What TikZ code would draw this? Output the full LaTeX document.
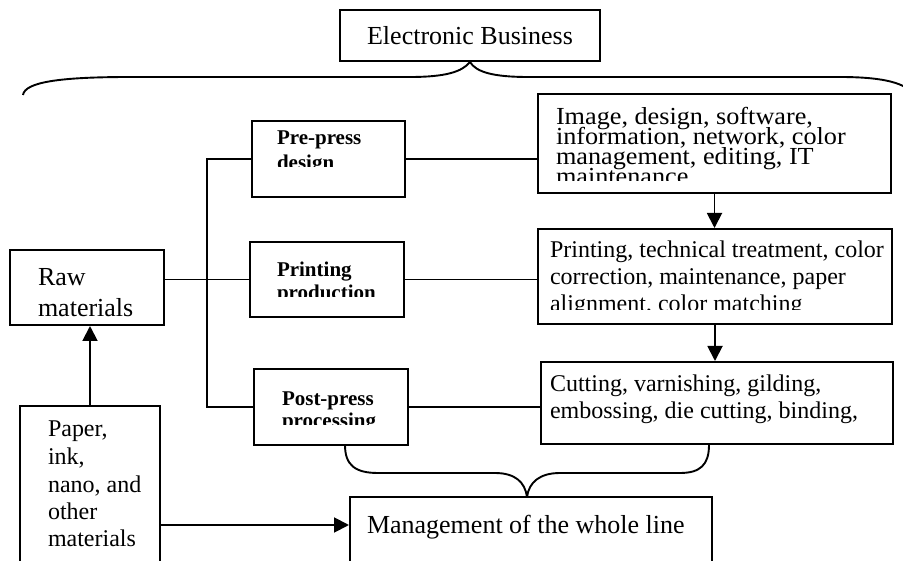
\documentclass[tikz,border=0pt]{standalone}
\usepackage{fontspec}
\usepackage{graphicx}
\setmainfont{Liberation Serif}
\usetikzlibrary{arrows.meta}

% stack of lines with a fixed baseline distance (taken from the current font size)
\newcommand\mklines[1]{\vtop{\lineskiplimit=-100pt\lineskip=0pt #1}}
% a line of text stretched sideways
\newcommand\wideline[1]{\hbox{\scalebox{1.07}[1]{#1}}}

\tikzset{
  box/.style={draw, line width=2pt, inner sep=0pt},
  txt/.style={anchor=base west, inner sep=0pt, outer sep=0pt},
  link/.style={line width=1.9pt},
  arr/.style={line width=1.9pt, -{Triangle[length=15pt,width=15pt]}},
}

\begin{document}
\begin{tikzpicture}[x=1pt,y=-1pt]
\clip (0,0) rectangle (903,561);
\fill[white] (0,0) rectangle (903,561);

% boxes
\node[box, minimum width=260pt, minimum height=51pt, font=\fontsize{26}{30}\selectfont]
  (eb) at (470,35.5) {Electronic Business};
\node[box, minimum width=153pt, minimum height=76pt] (pre)   at (328.5,159) {};
\node[box, minimum width=353pt, minimum height=99pt] (img)   at (714.5,143.5) {};
\node[box, minimum width=154pt, minimum height=75pt] (raw)   at (87,287.5) {};
\node[box, minimum width=154pt, minimum height=75pt] (prod)  at (327,279.5) {};
\node[box, minimum width=354pt, minimum height=95pt] (prbox) at (715,276.5) {};
\node[box, minimum width=154pt, minimum height=76pt] (post)  at (331,407) {};
\node[box, minimum width=352pt, minimum height=82pt] (cut)   at (717,403) {};
\node[box, minimum width=362pt, minimum height=83pt] (mgmt)  at (531,538.5) {};
\node[box, minimum width=140pt, minimum height=238pt] (paper) at (90,525) {};

% texts (some are cut off by the lower edge of their text area)
\begin{scope}
  \clip (252,121) rectangle (405,167);
  \node[txt, font=\fontsize{21}{25}\selectfont\bfseries] (pretext) at (277,145)
    {\mklines{\hbox{Pre-press}\hbox{design}}};
\end{scope}
\begin{scope}
  \clip (538,94) rectangle (891,181);
  \node[txt, font=\fontsize{24.5}{20}\selectfont] (imgtext) at (556,125)
    {\mklines{\wideline{Image, design, software,}\wideline{information, network, color}%
      \wideline{management, editing, IT}\wideline{maintenance}}};
\end{scope}
\begin{scope}
  \clip (250,242) rectangle (404,297);
  \node[txt, font=\fontsize{21}{23}\selectfont\bfseries] (prodtext) at (277,277)
    {\mklines{\hbox{Printing}\hbox{production}}};
\end{scope}
\begin{scope}
  \clip (538,229) rectangle (892,310);
  \node[txt, font=\fontsize{24}{27}\selectfont] (prtext) at (550,258)
    {\mklines{\hbox{Printing, technical treatment, color}\hbox{correction, maintenance, paper}%
      \hbox{alignment, color matching}}};
\end{scope}
\begin{scope}
  \clip (254,369) rectangle (408,425);
  \node[txt, font=\fontsize{21}{22}\selectfont\bfseries] (posttext) at (282,406)
    {\mklines{\hbox{Post-press}\hbox{processing}}};
\end{scope}
\node[txt, font=\fontsize{24}{27}\selectfont] (cuttext) at (550,392)
  {\mklines{\hbox{Cutting, varnishing, gilding,}\hbox{embossing, die cutting, binding,}}};
\node[txt, font=\fontsize{26}{31}\selectfont] (rawtext) at (38,286)
  {\mklines{\hbox{Raw}\hbox{materials}}};
\node[txt, font=\fontsize{26}{30}\selectfont] (mgmttext) at (367,533)
  {Management of the whole line};
\node[txt, font=\fontsize{24}{27.5}\selectfont] (papertext) at (48,437)
  {\mklines{\hbox{Paper,}\hbox{ink,}\hbox{nano, and}\hbox{other}\hbox{materials}}};

% connectors
\coordinate (trunk) at (207,300);
\draw[link] (pre.west) -- (pre.west -| trunk) |- (post.west);
\draw[link] (prod.west -| raw.east) -- (prod.west);
\draw[link] (pre.east) -- (pre.east -| img.west);
\draw[link] (prod.east) -- (prod.east -| prbox.west);
\draw[link] (post.east) -- (post.east -| cut.west);
\draw[arr] (img.south) -- (img.south |- prbox.north);
\draw[arr] (prbox.south) -- (prbox.south |- cut.north);
\draw[arr] (paper.north) -- (paper.north |- raw.south);
\draw[arr] (paper.east) -- (paper.east -| mgmt.west);

% brace under "Electronic Business"
\coordinate (bl) at (23,95);
\coordinate (br) at (916,100);
\draw[link] (bl) .. controls (25,82) and (60,77) .. (130,77) -- (410,77)
  .. controls (445,77) and (462,72) .. (eb.south);
\draw[link] (eb.south) .. controls (476,72) and (493,77) .. (528,77) -- (840,77)
  .. controls (890,77) and (912,85) .. (br);

% brace above "Management of the whole line"
\coordinate (sl) at (345,445);
\coordinate (sr) at (709,445);
\coordinate (stip) at (527,497);
\draw[link] (sl) .. controls (345,465) and (355,473) .. (378,473) -- (495,473)
  .. controls (515,473) and (525,482) .. (stip);
\draw[link] (stip) .. controls (529,482) and (540,473) .. (560,473) -- (680,473)
  .. controls (700,473) and (709,465) .. (sr);
\end{tikzpicture}
\end{document}
